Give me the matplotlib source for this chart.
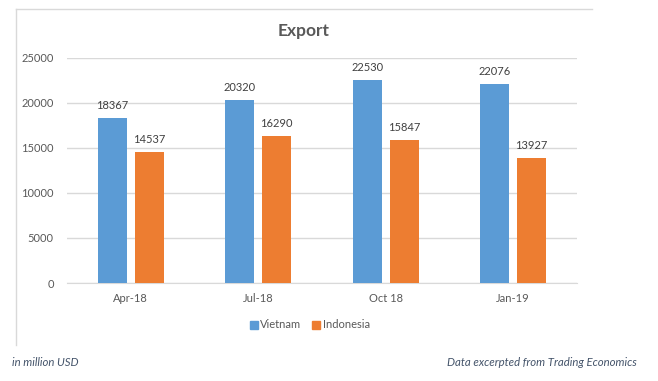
import numpy as np
import matplotlib.pyplot as plt
from matplotlib.lines import Line2D

# data (million USD)
months = ['Apr-18', 'Jul-18', 'Oct 18', 'Jan-19']
vietnam = [18367, 20320, 22530, 22076]
indonesia = [14537, 16290, 15847, 13927]

blue = '#5B9BD5'
orange = '#ED7D31'
text_col = '#595959'

plt.rcParams['font.family'] = ['Lato', 'DejaVu Sans']

fig = plt.figure(figsize=(6.58, 3.81), dpi=100)
ax = fig.add_axes([67 / 658, 1 - 283 / 381, 510 / 658, 225 / 381])

x = np.arange(len(months))
w = 0.225
off = 0.145
b1 = ax.bar(x - off, vietnam, w, color=blue, zorder=3)
b2 = ax.bar(x + off, indonesia, w, color=orange, zorder=3)

for bars, vals in [(b1, vietnam), (b2, indonesia)]:
    for b, v in zip(bars, vals):
        ax.annotate(str(v), (b.get_x() + b.get_width() / 2, v), xytext=(0, 5),
                    textcoords='offset points', ha='center', va='bottom',
                    fontsize=8, color='#404040')

ax.set_xlim(-0.5, 3.5)
ax.set_ylim(0, 25000)
ax.set_yticks(range(0, 25001, 5000))
ax.set_xticks(x)
ax.set_xticklabels(months)
ax.yaxis.grid(True, color='#D9D9D9', linewidth=1)
ax.set_axisbelow(True)
for s in ['top', 'right', 'left']:
    ax.spines[s].set_visible(False)
ax.spines['bottom'].set_color('#D9D9D9')
ax.tick_params(axis='both', length=0, labelsize=8, labelcolor=text_col)
ax.tick_params(axis='x', pad=7)
ax.tick_params(axis='y', pad=9.5)

fig.text(304 / 658, 1 - 31 / 381, 'Export', ha='center', va='center',
         fontsize=12.5, fontweight='bold', color=text_col)

handles = [Line2D([], [], marker='s', linestyle='', color=blue, markersize=5.5),
           Line2D([], [], marker='s', linestyle='', color=orange, markersize=5.5)]
fig.legend(handles, ['Vietnam', 'Indonesia'], loc='center',
           bbox_to_anchor=(309 / 658, 1 - 325 / 381), ncol=2, frameon=False,
           fontsize=8, labelcolor=text_col, handletextpad=0.1,
           columnspacing=0.8, handlelength=1)

# chart frame (top and left edges visible)
fig.add_artist(Line2D([16 / 658, 592 / 658], [1 - 9 / 381, 1 - 9 / 381],
                      color='#D9D9D9', linewidth=1))
fig.add_artist(Line2D([16 / 658, 16 / 658], [1 - 9 / 381, 1 - 345 / 381],
                      color='#D9D9D9', linewidth=1))

fig.text(12 / 658, 1 - 363 / 381, 'in million USD', ha='left', va='center',
         fontsize=8.2, style='italic', color='#44546A')
fig.text(637 / 658, 1 - 363 / 381, 'Data excerpted from Trading Economics',
         ha='right', va='center', fontsize=8.2, style='italic', color='#44546A')

fig.savefig('out.png', dpi=100)
